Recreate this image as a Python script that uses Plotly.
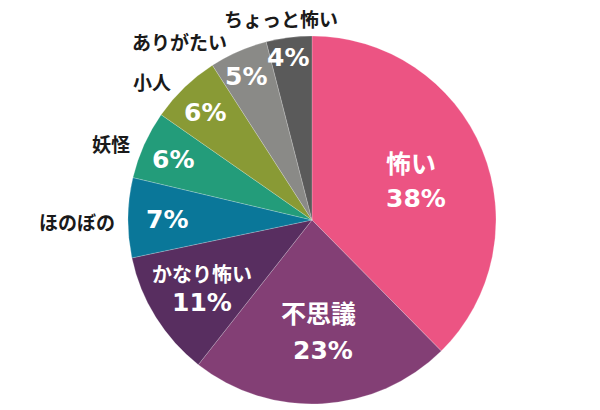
import math
import plotly.graph_objects as go

categories = ["怖い", "不思議", "かなり怖い", "ほのぼの", "妖怪", "小人", "ありがたい", "ちょっと怖い"]
# shares read from the slice edges (labels show them rounded)
values = [37.6, 23.0, 11.1, 7.0, 6.0, 6.2, 5.1, 4.0]
colors = ["#EC5483", "#833F75", "#582E60", "#0A7799", "#239C7A", "#899A35", "#8A8A87", "#5A5A5A"]

W, H = 600, 410
# page body adds an 8px offset on screen
cx, cy, R = 304, 212, 184
FONT = "DejaVu Sans, Noto Sans CJK JP, sans-serif"

fig = go.Figure(go.Pie(
    labels=categories,
    values=values,
    sort=False,
    direction="clockwise",
    rotation=0,
    marker=dict(colors=colors, line=dict(color="rgba(255,255,255,0.35)", width=0.6)),
    textinfo="none",
    hoverinfo="skip",
    showlegend=False,
    domain=dict(x=[(cx - R) / W, (cx + R) / W], y=[1 - (cy + R) / H, 1 - (cy - R) / H]),
))


def ann(px, py, text, size, color, xa="center"):
    return dict(x=px / W, y=1 - py / H, xref="paper", yref="paper", text=f"<b>{text}</b>",
                xanchor=xa, yanchor="middle", showarrow=False,
                font=dict(family=FONT, size=size, color=color))


def polar(angle, rf):
    return cx + rf * R * math.sin(angle), cy - rf * R * math.cos(angle)


total = sum(values)
cum = 0
annotations = []
for name, v in zip(categories, values):
    mid = (cum + v / 2) / total * 2 * math.pi
    cum += v
    pct = f"{round(v / total * 100)}%"
    if v >= 10:
        if v >= 30:
            rf, lsize, up, down = 0.58, 25, 15, 19
        elif v >= 20:
            rf, lsize, up, down = 0.61, 25, 18, 18
        else:
            rf, lsize, up, down = 0.707, 20, 14, 14
        px, py = polar(mid, rf)
        annotations.append(ann(px, py - up, name, lsize, "white"))
        annotations.append(ann(px + (5 if v >= 20 else 0), py + down, pct, 25, "white"))
    else:
        a = mid - math.radians(1.5)
        rf = 0.79 + 0.09 * (7 - v) / 3
        px, py = polar(a, rf)
        annotations.append(ann(px, py - 2, pct, 25, "white"))
        if abs(math.sin(a)) < 0.3:
            px, py = polar(a, 1.11)
            xa = "center"
        else:
            px, py = polar(a, 1.06)
            xa = "right"
        annotations.append(ann(px, max(py, 12), name, 19, "#1a1a1a", xa))

fig.update_layout(
    width=W, height=H,
    margin=dict(l=0, r=0, t=0, b=0),
    paper_bgcolor="white",
    plot_bgcolor="white",
    annotations=annotations,
)

fig.write_html("out.html")
